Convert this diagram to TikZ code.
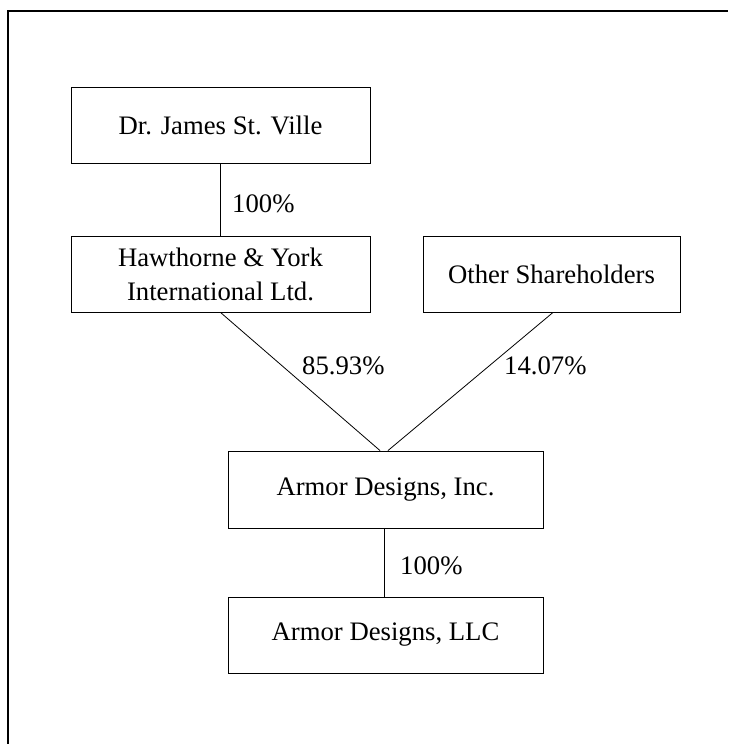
\documentclass[tikz,border=0pt]{standalone}
\usepackage{fontspec}
\setmainfont{Liberation Serif}
\usetikzlibrary{calc}
\tikzset{
  entity/.style={draw, line width=0.9pt, rectangle, align=center, inner sep=0pt,
    font=\fontsize{26.7}{34}\selectfont},
  link/.style={line width=0.8pt},
  pct/.style={inner sep=0pt, anchor=base west, font=\fontsize{26.7}{32}\selectfont}
}
\begin{document}
\begin{tikzpicture}[x=1pt,y=-1pt]
\useasboundingbox (0,0) rectangle (728,744);
% frame
\draw[line width=1.6pt] (8,744) -- (8,11) -- (728,11);
% boxes
\node[entity, minimum width=299, minimum height=76] (dr) at (220.5,125) {Dr. James St. Ville};
\node[entity, minimum width=299, minimum height=76] (hy) at (220.5,274) {Hawthorne \& York\\International Ltd.};
\node[entity, minimum width=257, minimum height=76] (os) at (551.5,274) {Other Shareholders};
\node[entity, minimum width=315, minimum height=77] (adi) at (385.5,489.5) {Armor Designs, Inc.};
\node[entity, minimum width=315, minimum height=76] (llc) at (385.5,635) {Armor Designs, LLC};
% connectors
\draw[link] (dr.south) -- (hy.north);
\draw[link] (hy.south) -- ($(adi.north)+(-5.5,0)$);
\draw[link] ($(os.south)+(1.5,0)$) -- ($(adi.north)+(2.5,0)$);
\draw[link] ($(adi.south)+(-1.5,0)$) -- ($(llc.north)+(-1.5,0)$);
% labels
\node[pct] (p1) at (232,212) {100\%};
\node[pct] (p2) at (302,374) {85.93\%};
\node[pct] (p3) at (504,374) {14.07\%};
\node[pct] (p4) at (400,574) {100\%};
\end{tikzpicture}
\end{document}
